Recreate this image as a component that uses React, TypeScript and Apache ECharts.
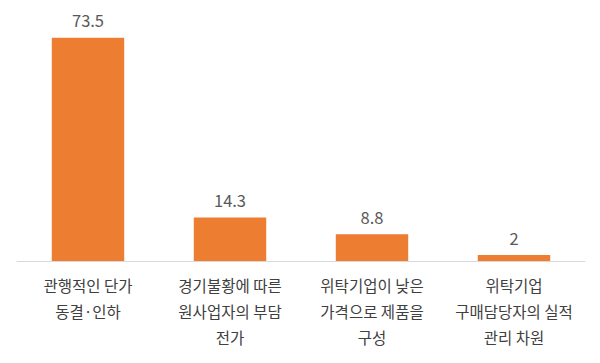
import React, { useEffect, useRef } from "react";
import * as echarts from "echarts";

const categories = [
  "관행적인 단가\n동결·인하",
  "경기불황에 따른\n원사업자의 부담\n전가",
  "위탁기업이 낮은\n가격으로 제품을\n구성",
  "위탁기업\n구매담당자의 실적\n관리 차원",
];
const values = [73.5, 14.3, 8.8, 2];

export default function App() {
  const ref = useRef<HTMLDivElement>(null);
  useEffect(() => {
    document.body.style.margin = "0";
    const chart = echarts.init(ref.current!, null, { renderer: "svg" });
    const font = "'Noto Sans CJK KR', 'Noto Sans', sans-serif";
    chart.setOption({
      animation: false,
      backgroundColor: "#ffffff",
      grid: { left: 17, right: 15, top: 18, bottom: 102, containLabel: false },
      xAxis: {
        type: "category",
        data: categories,
        axisLine: { show: true, lineStyle: { color: "#d9d9d9", width: 1 } },
        axisTick: { show: false },
        axisLabel: {
          interval: 0,
          margin: 11,
          fontFamily: font,
          fontSize: 15.5,
          lineHeight: 26,
          color: "#404040",
          align: "center",
        },
      },
      yAxis: {
        type: "value",
        min: 0,
        max: 80,
        show: false,
        splitLine: { show: false },
      },
      series: [
        {
          type: "bar",
          data: values,
          barWidth: "51%",
          itemStyle: { color: "#ED7D31" },
          label: {
            show: true,
            position: "top",
            distance: 9,
            fontFamily: font,
            fontSize: 16.5,
            color: "#595959",
          },
        },
      ],
    });
    return () => chart.dispose();
  }, []);
  return <div ref={ref} style={{ width: 600, height: 363 }} />;
}
